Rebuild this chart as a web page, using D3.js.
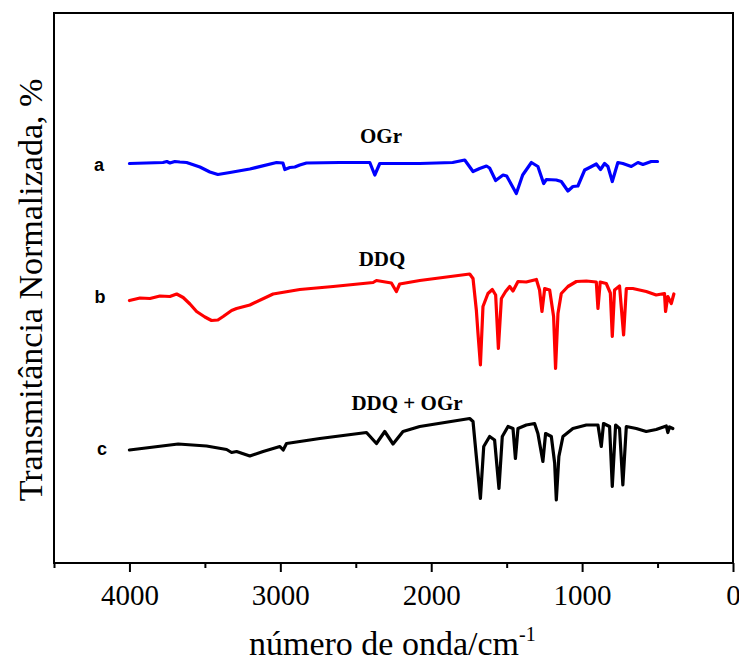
<!DOCTYPE html>
<html><head><meta charset="utf-8">
<script src="https://cdn.jsdelivr.net/npm/d3@7/dist/d3.min.js"></script>
<style>body{margin:0;background:#fff}svg{display:block}</style>
</head><body>
<svg id="c" width="739" height="662"></svg>
<script>
// Wavenumber (cm^-1) and normalized transmittance (arbitrary offset units)
const ogrWn = [4000,3778,3752,3732,3699,3666,3621,3533,3467,3414,3334,3202,3025,2983,2970,2937,2904,2871,2827,2606,2407,2374,2341,2076,1858,1778,1723,1679,1634,1613,1573,1524,1500,1436,1394,1336,1293,1255,1237,1171,1138,1094,1061,1028,983,950,906,878,851,829,800,763,730,674,630,597,542,500];
const ogrT  = [79.9,80.1,80.3,80.0,80.3,80.2,80.1,79.2,78.2,77.7,78.1,78.8,80.1,80.0,78.7,79.1,79.2,79.6,80.0,80.1,80.1,77.6,79.9,79.9,80.1,80.6,78.3,78.9,79.4,79.0,76.5,77.6,77.4,73.9,77.6,80.1,79.3,75.9,76.7,76.6,76.3,74.4,75.3,75.4,78.6,79.1,79.8,78.7,79.9,79.3,76.3,80.1,79.9,79.3,80.1,79.7,80.3,80.3];

const ddqWn = [4000,3930,3864,3798,3732,3687,3644,3599,3555,3500,3456,3414,3379,3323,3290,3202,3048,2871,2650,2385,2363,2264,2231,2209,2076,1745,1723,1701,1690,1674,1657,1624,1595,1573,1555,1535,1507,1480,1458,1425,1370,1303,1282,1266,1248,1215,1189,1176,1160,1138,1094,1038,972,906,895,880,840,813,800,785,752,725,707,664,575,509,454,447,432,409,392];
const ddqT  = [52.5,53.0,52.9,53.4,53.3,53.8,53.1,51.8,50.3,49.2,48.5,48.6,49.3,50.5,50.9,51.6,53.8,54.7,55.3,56.1,56.5,56.0,54.3,55.8,56.5,57.8,56.9,50.6,45.9,39.6,51.3,53.9,54.7,53.6,42.9,52.9,54.3,55.3,54.4,56.3,56.2,56.7,54.6,50.3,54.9,54.6,49.3,38.9,49.9,53.9,55.3,56.3,56.4,56.2,50.9,56.2,55.9,54.0,45.3,54.6,55.4,45.6,54.9,54.9,54.3,53.6,53.9,50.3,53.3,51.9,53.8];

const mixWn = [4000,3677,3489,3356,3323,3290,3202,3114,3003,2981,2959,2738,2429,2363,2308,2253,2187,2076,1745,1723,1701,1674,1652,1613,1580,1551,1529,1491,1458,1442,1425,1370,1315,1293,1260,1242,1204,1182,1171,1154,1127,1061,972,895,873,858,818,800,778,752,730,707,641,575,509,442,432,421,399];
const mixT  = [22.6,23.8,23.4,22.7,22.1,22.3,21.4,22.3,23.3,22.6,23.9,24.9,26.1,23.9,26.3,23.8,26.3,27.3,28.9,28.3,21.3,12.9,23.3,25.3,24.6,14.9,25.3,27.3,26.9,20.9,26.9,27.6,27.9,25.9,20.3,25.9,25.3,20.0,12.6,21.3,25.3,26.9,27.6,27.6,23.3,27.9,27.3,15.3,27.6,26.9,15.6,27.3,26.9,26.3,26.7,27.4,26.1,27.2,26.9];

const xMajorTicks = [4000,3000,2000,1000,0];
const xMinorTicks = [4500,3500,2500,1500,500];
const seriesNames = ["OGr","DDQ","DDQ + OGr"];
const seriesLetters = ["a","b","c"];
const seriesColors = ["#0000ff","#ff0000","#000000"];

const svg = d3.select("#c");
const L = 54, R = 733, T = 13, B = 563;
const x = d3.scaleLinear().domain([4500,0]).range([L,R]);
const y = d3.scaleLinear().domain([0,110]).range([B,T]);

const line = d3.line().x(d => x(d[0])).y(d => y(d[1]));
const series = [
  {wn: ogrWn, t: ogrT},
  {wn: ddqWn, t: ddqT},
  {wn: mixWn, t: mixT}
];
series.forEach((s,i) => {
  const pts = s.wn.map((w,j) => [w, s.t[j]]);
  svg.append("path").attr("d", line(pts)).attr("fill","none")
    .attr("stroke", seriesColors[i]).attr("stroke-width",3.2)
    .attr("stroke-linejoin","round").attr("stroke-linecap","round");
});

// frame
svg.append("rect").attr("x",L).attr("y",T).attr("width",R-L).attr("height",B-T)
  .attr("fill","none").attr("stroke","#000").attr("stroke-width",2);

// x axis
const axMaj = d3.axisBottom(x).tickValues(xMajorTicks).tickSize(9).tickFormat(d3.format("d"));
const gx = svg.append("g").attr("transform",`translate(0,${B})`).call(axMaj);
gx.select(".domain").remove();
gx.selectAll(".tick line").attr("stroke","#000").attr("stroke-width",2);
gx.selectAll(".tick text").attr("font-family","'Liberation Serif','Times New Roman',serif")
  .attr("font-size",29).attr("fill","#000").attr("dy",null).attr("y",42);
const axMin = d3.axisBottom(x).tickValues(xMinorTicks).tickSize(5).tickFormat("");
const gm = svg.append("g").attr("transform",`translate(0,${B})`).call(axMin);
gm.select(".domain").remove();
gm.selectAll(".tick line").attr("stroke","#000").attr("stroke-width",2);

// axis titles
const xt = svg.append("text").attr("x",249).attr("y",655)
  .attr("font-family","'Liberation Serif','Times New Roman',serif").attr("font-size",34).attr("fill","#000");
xt.append("tspan").text("número de onda/cm");
xt.append("tspan").attr("font-size",20).attr("dy",-14).text("-1");

svg.append("text").attr("transform","translate(42,290) rotate(-90)")
  .attr("text-anchor","middle")
  .attr("font-family","'Liberation Serif','Times New Roman',serif").attr("font-size",34).attr("fill","#000")
  .text("Transmitância Normalizada, %");

// series labels
const letterPos = [[99,171],[100,303],[102,455]];
seriesLetters.forEach((l,i) => {
  svg.append("text").attr("x",letterPos[i][0]).attr("y",letterPos[i][1]).attr("text-anchor","middle")
    .attr("font-family","'Liberation Sans',Arial,sans-serif").attr("font-weight","bold").attr("font-size",18)
    .text(l);
});
const namePos = [[381,143],[382,266],[407,410]];
seriesNames.forEach((n,i) => {
  svg.append("text").attr("x",namePos[i][0]).attr("y",namePos[i][1]).attr("text-anchor","middle")
    .attr("font-family","'Liberation Serif','Times New Roman',serif").attr("font-weight","bold").attr("font-size",21)
    .text(n);
});
</script>
</body></html>
